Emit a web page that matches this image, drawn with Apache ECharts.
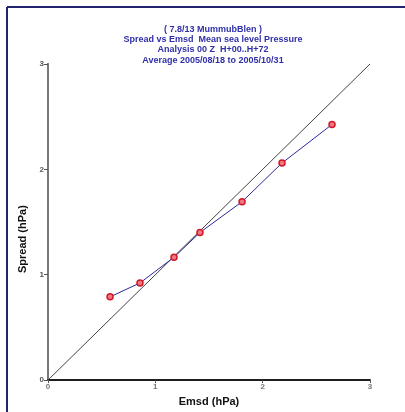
<!DOCTYPE html>
<html>
<head>
<meta charset="utf-8">
<script src="https://cdn.jsdelivr.net/npm/echarts@6/dist/echarts.min.js"></script>
<style>html,body{margin:0;padding:0;background:#fff;}#c{width:405px;height:412px;}</style>
</head>
<body>
<div id="c"></div>
<script>
const titleLines = ['( 7.8/13 MummubBlen )', 'Spread vs Emsd  Mean sea level Pressure', 'Analysis 00 Z  H+00..H+72', 'Average 2005/08/18 to 2005/10/31'];
const emsd = [0.578, 0.857, 1.174, 1.416, 1.808, 2.18, 2.646];
const spread = [0.79, 0.922, 1.166, 1.401, 1.693, 2.06, 2.426];
const diagonal = [[0, 0], [3, 3]];
const axisMin = 0, axisMax = 3, axisStep = 1;
const xTitle = 'Emsd (hPa)';
const yTitle = 'Spread (hPa)';

const pts = emsd.map((x, i) => [x, spread[i]]);
const chart = echarts.init(document.getElementById('c'), null, {renderer: 'canvas'});
const font = 'Liberation Sans, Arial, sans-serif';
chart.setOption({
  animation: false,
  backgroundColor: '#fff',
  title: {
    text: titleLines.join('\n'),
    left: 208, top: 19, textAlign: 'center',
    textStyle: {fontFamily: font, fontSize: 9, fontWeight: 'bold', color: '#3030a8', lineHeight: 10.3}
  },
  graphic: [
    {type: 'line', shape: {x1: 7, y1: 7, x2: 7, y2: 412}, style: {stroke: '#23236e', lineWidth: 2}},
    {type: 'line', shape: {x1: 7, y1: 7, x2: 405, y2: 7}, style: {stroke: '#23236e', lineWidth: 2}}
  ],
  grid: {left: 48, right: 35, top: 64, bottom: 29},
  xAxis: [
    {type: 'value', min: axisMin, max: axisMax, interval: axisStep, position: 'bottom',
     name: xTitle, nameLocation: 'middle', nameGap: 15,
     nameTextStyle: {fontFamily: font, fontSize: 11, fontWeight: 'bold', color: '#111'},
     axisLine: {lineStyle: {color: '#111', width: 1.5}},
     axisTick: {show: true, length: 3, lineStyle: {color: '#555'}},
     axisLabel: {fontFamily: font, fontSize: 8, fontWeight: 'bold', color: '#777', margin: 3},
     splitLine: {show: false}},
    {type: 'value', min: axisMin, max: axisMax, position: 'top',
     axisLine: {show: true, lineStyle: {color: '#111', width: 1.5}},
     axisTick: {show: false}, axisLabel: {show: false}, splitLine: {show: false}}
  ],
  yAxis: [
    {type: 'value', min: axisMin, max: axisMax, interval: axisStep, position: 'left',
     name: yTitle, nameLocation: 'middle', nameGap: 14, nameRotate: 90,
     nameTextStyle: {fontFamily: font, fontSize: 11, fontWeight: 'bold', color: '#111', padding: [0, 0, 0, -34]},
     axisLine: {lineStyle: {color: '#777', width: 2}},
     axisTick: {show: true, length: 4, lineStyle: {color: '#555'}},
     axisLabel: {fontFamily: font, fontSize: 8, fontWeight: 'bold', color: '#555', margin: 4},
     splitLine: {show: false}},
    {type: 'value', min: axisMin, max: axisMax, position: 'right',
     axisLine: {show: true, lineStyle: {color: '#777', width: 2}},
     axisTick: {show: false}, axisLabel: {show: false}, splitLine: {show: false}}
  ],
  series: [
    {type: 'line', data: diagonal, showSymbol: false, symbol: 'none',
     lineStyle: {color: '#444', width: 1}, silent: true},
    {type: 'line', data: pts, symbol: 'circle', symbolSize: 6,
     lineStyle: {color: '#2a2a9a', width: 1},
     itemStyle: {color: '#f07880', borderColor: '#d01828', borderWidth: 1.5}}
  ]
});
</script>
</body>
</html>
